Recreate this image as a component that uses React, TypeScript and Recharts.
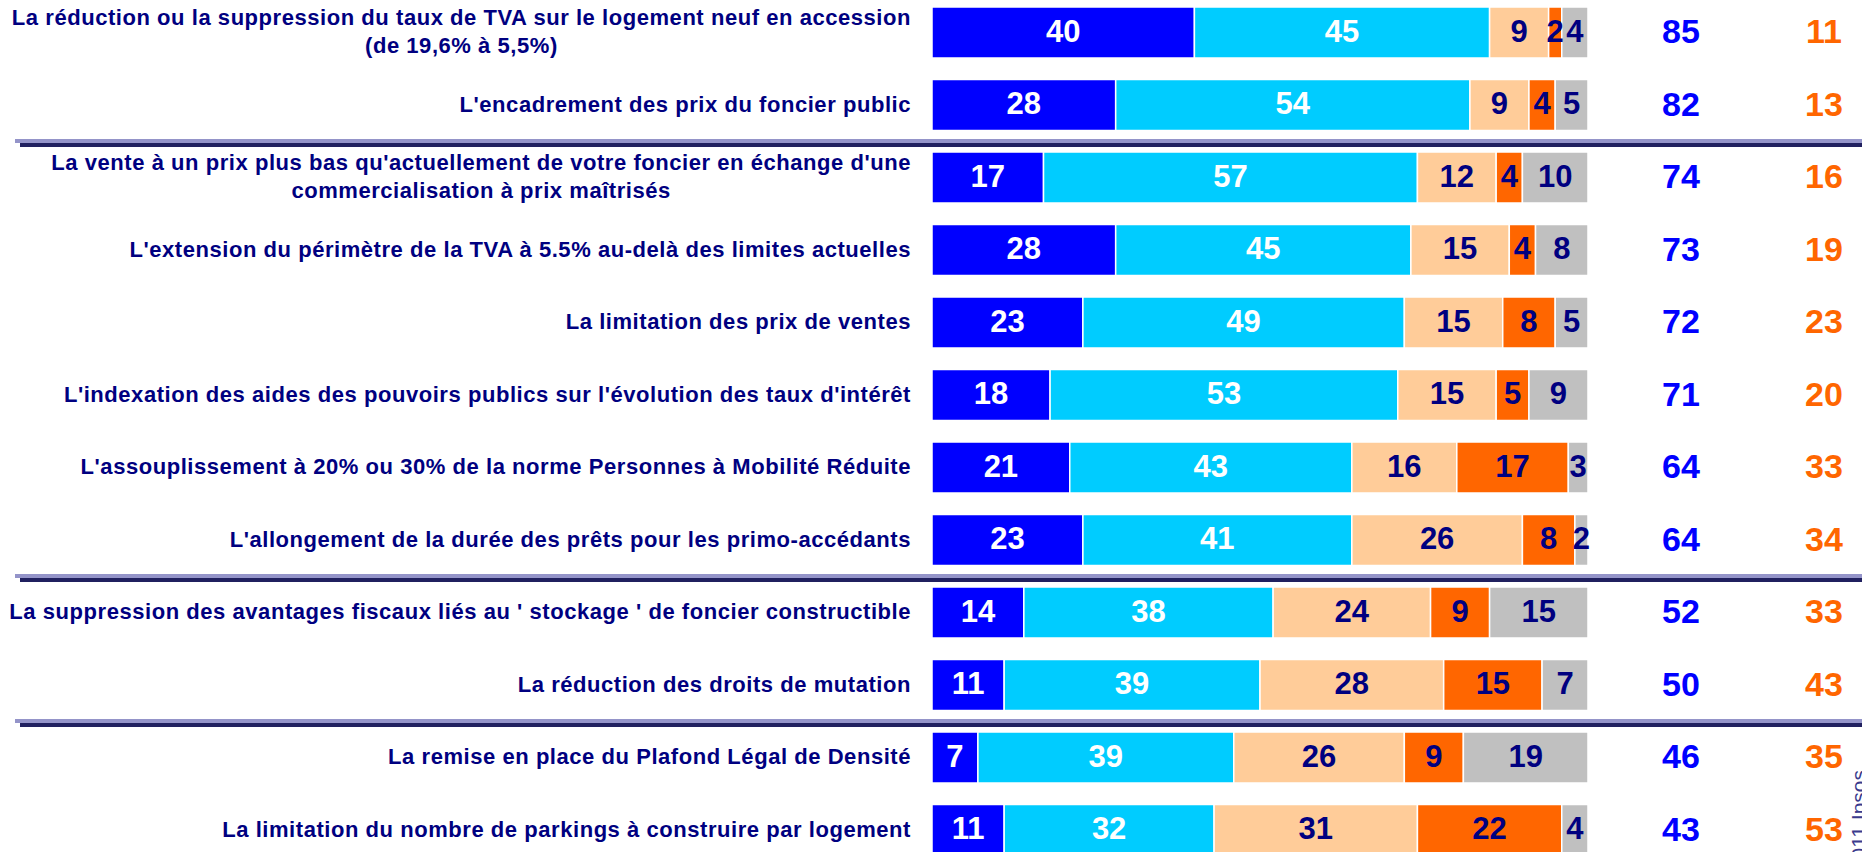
import { BarChart, Bar, XAxis, YAxis, LabelList } from 'recharts';

const FONT = "'Liberation Sans', Arial, sans-serif";

const CATEGORIES = [
  'La réduction ou la suppression du taux de TVA sur le logement neuf en accession\n(de 19,6% à 5,5%)',
  "L'encadrement des prix du foncier public",
  "La vente à un prix plus bas qu'actuellement de votre foncier en échange d'une\ncommercialisation à prix maîtrisés",
  "L'extension du périmètre de la TVA à 5.5% au-delà des limites actuelles",
  'La limitation des prix de ventes',
  "L'indexation des aides des pouvoirs publics sur l'évolution des taux d'intérêt",
  "L'assouplissement à 20% ou 30% de la norme Personnes à Mobilité Réduite",
  "L'allongement de la durée des prêts pour les primo-accédants",
  "La suppression des avantages fiscaux liés au ' stockage ' de foncier constructible",
  'La réduction des droits de mutation',
  'La remise en place du Plafond Légal de Densité',
  'La limitation du nombre de parkings à construire par logement',
];

const TRES = [40, 28, 17, 28, 23, 18, 21, 23, 14, 11, 7, 11];
const ASSEZ = [45, 54, 57, 45, 49, 53, 43, 41, 38, 39, 39, 32];
const PEU = [9, 9, 12, 15, 15, 15, 16, 26, 24, 28, 26, 31];
const PAS_DU_TOUT = [2, 4, 4, 4, 8, 5, 17, 8, 9, 15, 9, 22];
const NSP = [4, 5, 10, 8, 5, 9, 3, 2, 15, 7, 19, 4];
const TOTAL_OUI = [85, 82, 74, 73, 72, 71, 64, 64, 52, 50, 46, 43];
const TOTAL_NON = [11, 13, 16, 19, 23, 20, 33, 34, 33, 43, 35, 53];

// rows that get a double rule above them
const GROUP_STARTS = [2, 8, 10];

const rows = CATEGORIES.map((label, i) => ({
  label,
  tres: TRES[i],
  assez: ASSEZ[i],
  peu: PEU[i],
  pasDuTout: PAS_DU_TOUT[i],
  nsp: NSP[i],
  oui: TOTAL_OUI[i],
  non: TOTAL_NON[i],
}));

const CHART_H = 870;
const BAND = CHART_H / CATEGORIES.length;

function CategoryTick(props: any) {
  const { x, y, payload } = props;
  const idx = CATEGORIES.indexOf(payload.value);
  const lines = String(payload.value).split('\n');
  const top = y - BAND / 2 - 2;
  return (
    <g>
      {GROUP_STARTS.includes(idx) && (
        <g>
          <rect x={15} y={top} width={1862} height={4} fill="#9494c9" />
          <rect x={20} y={top + 4} width={1862} height={4} fill="#20205f" />
        </g>
      )}
      <foreignObject x={0} y={y - 40} width={x} height={80}>
        <div
          style={{
            height: 80,
            display: 'flex',
            alignItems: 'center',
            justifyContent: 'flex-end',
          }}
        >
          <div
            style={{
              textAlign: 'center',
              fontFamily: FONT,
              fontWeight: 'bold',
              fontSize: 22,
              letterSpacing: 0.55,
              lineHeight: '28px',
              color: '#000080',
              whiteSpace: 'nowrap',
            }}
          >
            {lines.map((l) => (
              <div key={l}>{l}</div>
            ))}
          </div>
        </div>
      </foreignObject>
    </g>
  );
}

function segmentLabel(color: string) {
  return (props: any) => {
    const { x, y, width, height } = props.viewBox ?? props;
    return (
      <text
        x={x + width / 2}
        y={y + height / 2 - 1.5}
        textAnchor="middle"
        dominantBaseline="central"
        fill={color}
        fontSize={31}
        fontWeight="bold"
        fontFamily={FONT}
      >
        {props.value}
      </text>
    );
  };
}

function totalLabel(color: string, offset: number) {
  return (props: any) => {
    const { x, y, width, height } = props.viewBox ?? props;
    return (
      <text
        x={x + width + offset}
        y={y + height / 2 - 1.5}
        textAnchor="middle"
        dominantBaseline="central"
        fill={color}
        fontSize={34}
        fontWeight="bold"
        fontFamily={FONT}
      >
        {props.value}
      </text>
    );
  };
}

export default function App() {
  return (
    <div>
      <div style={{ position: 'absolute', left: 0, top: -4, width: 1862, height: CHART_H }}>
        <BarChart
          width={1862}
          height={CHART_H}
          data={rows}
          layout="vertical"
          margin={{ top: 0, right: 274, bottom: 0, left: 0 }}
          barSize={51}
        >
          <XAxis type="number" domain={[0, 100]} hide />
          <YAxis
            type="category"
            dataKey="label"
            width={932}
            axisLine={false}
            tickLine={false}
            tickSize={0}
            tickMargin={21}
            interval={0}
            tick={<CategoryTick />}
          />
          <Bar dataKey="tres" stackId="a" fill="#0000FF" stroke="#fff" strokeWidth={1.5} isAnimationActive={false}>
            <LabelList dataKey="tres" content={segmentLabel('#ffffff')} />
          </Bar>
          <Bar dataKey="assez" stackId="a" fill="#00CCFF" stroke="#fff" strokeWidth={1.5} isAnimationActive={false}>
            <LabelList dataKey="assez" content={segmentLabel('#ffffff')} />
          </Bar>
          <Bar dataKey="peu" stackId="a" fill="#FFCC99" stroke="#fff" strokeWidth={1.5} isAnimationActive={false}>
            <LabelList dataKey="peu" content={segmentLabel('#000080')} />
          </Bar>
          <Bar dataKey="pasDuTout" stackId="a" fill="#FF6600" stroke="#fff" strokeWidth={1.5} isAnimationActive={false}>
            <LabelList dataKey="pasDuTout" content={segmentLabel('#000080')} />
          </Bar>
          <Bar dataKey="nsp" stackId="a" fill="#C0C0C0" stroke="#fff" strokeWidth={1.5} isAnimationActive={false}>
            <LabelList dataKey="nsp" content={segmentLabel('#000080')} />
            <LabelList dataKey="oui" content={totalLabel('#0000FF', 93)} />
            <LabelList dataKey="non" content={totalLabel('#FF6600', 236)} />
          </Bar>
        </BarChart>
      </div>
      <svg style={{ position: 'absolute', left: 0, top: 0, pointerEvents: 'none' }} width={1862} height={852}>
        <text
          transform="translate(1866, 770) rotate(-90)"
          textAnchor="end"
          fontSize={21}
          fontFamily={FONT}
          fill="#3a3a8c"
        >
          2011 Ipsos
        </text>
      </svg>
    </div>
  );
}
